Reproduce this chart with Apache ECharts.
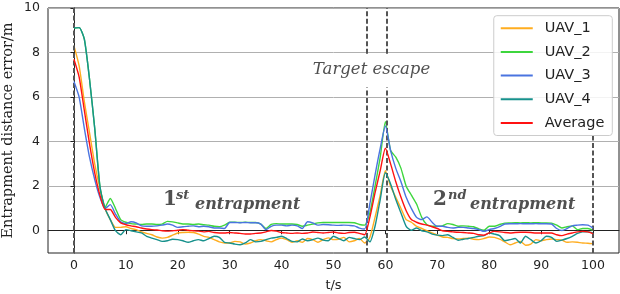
<!DOCTYPE html>
<html>
<head>
<meta charset="utf-8">
<script src="https://cdn.jsdelivr.net/npm/echarts@6/dist/echarts.min.js"></script>
<style>html,body{margin:0;padding:0;background:#fff}#c{width:620px;height:294px}</style>
</head>
<body>
<div id="c"></div>
<script>
const seriesNames = ['UAV_1', 'UAV_2', 'UAV_3', 'UAV_4', 'Average'];
const seriesColors = ['#ffad1f', '#3dd63d', '#4a74e0', '#17918c', '#ff1111'];
const xTicks = [0, 10, 20, 30, 40, 50, 60, 70, 80, 90, 100];
const yTicks = [0, 2, 4, 6, 8, 10];

const uav1 = [8.3,7.4,5.8,4.4,3.0,1.9,1.0,0.5,0.15,0.15,0.18,
0.1,0.05,-0.05,-0.12,-0.18,-0.28,-0.33,-0.3,-0.2,-0.1,
-0.08,-0.07,-0.08,-0.15,-0.25,-0.3,-0.4,-0.5,-0.55,-0.55,
-0.48,-0.5,-0.6,-0.55,-0.45,-0.4,-0.45,-0.5,-0.4,-0.33,
-0.4,-0.52,-0.45,-0.52,-0.35,-0.4,-0.52,-0.4,-0.32,-0.4,
-0.38,-0.3,-0.5,-0.45,-0.35,-0.55,-0.3,0.6,1.6,2.7,
2.0,1.5,1.0,0.5,0.38,0.2,0.1,0.0,-0.1,-0.2,
-0.28,-0.3,-0.35,-0.37,-0.35,-0.33,-0.38,-0.4,-0.35,-0.28,
-0.3,-0.38,-0.5,-0.63,-0.55,-0.48,-0.65,-0.6,-0.4,-0.45,
-0.4,-0.37,-0.4,-0.42,-0.52,-0.5,-0.52,-0.55,-0.56,-0.58];

const uav2 = [9.1,9.12,8.6,6.8,4.6,2.0,1.05,1.45,1.0,0.5,0.38,
0.32,0.3,0.28,0.3,0.3,0.28,0.3,0.42,0.4,0.35,
0.3,0.3,0.28,0.3,0.27,0.25,0.2,0.18,0.25,0.38,
0.38,0.37,0.38,0.37,0.37,0.3,0.1,0.28,0.32,0.3,
0.3,0.3,0.28,0.2,0.25,0.3,0.35,0.37,0.37,0.37,
0.37,0.37,0.37,0.36,0.28,0.25,0.8,2.0,3.3,4.9,
3.6,3.3,2.8,2.0,1.6,1.2,0.6,0.27,0.2,0.2,
0.22,0.32,0.28,0.2,0.22,0.2,0.18,0.08,0.02,0.2,
0.2,0.28,0.34,0.35,0.36,0.35,0.36,0.35,0.36,0.35,
0.35,0.34,0.25,0.12,0.18,0.22,0.05,0.1,0.1,0.02];

const uav3 = [6.7,6.0,4.6,3.3,2.3,1.5,1.0,1.17,0.75,0.4,0.32,
0.4,0.35,0.22,0.2,0.2,0.22,0.25,0.3,0.25,0.15,
0.18,0.2,0.22,0.18,0.2,0.18,0.12,0.12,0.1,0.37,
0.37,0.36,0.37,0.36,0.36,0.3,0.05,0.2,0.25,0.25,
0.22,0.25,0.22,0.1,0.4,0.35,0.25,0.28,0.27,0.25,
0.24,0.25,0.24,0.22,0.12,0.08,1.2,2.5,3.7,4.7,
3.6,2.8,2.2,1.5,1.0,0.6,0.5,0.62,0.38,0.2,
0.2,0.15,0.12,0.15,0.15,0.12,0.1,0.05,-0.03,0.05,
0.1,0.18,0.3,0.31,0.31,0.32,0.31,0.31,0.32,0.31,
0.31,0.3,0.1,0.01,0.1,0.22,0.25,0.27,0.25,0.12];

const uav4 = [9.1,9.12,8.6,6.8,4.6,2.0,1.0,0.5,0.0,-0.18,0.05,
0.0,-0.05,-0.1,-0.25,-0.33,-0.4,-0.48,-0.45,-0.38,-0.4,
-0.45,-0.52,-0.45,-0.4,-0.45,-0.35,-0.25,-0.3,-0.52,-0.55,
-0.6,-0.63,-0.55,-0.4,-0.5,-0.48,-0.4,-0.33,-0.3,-0.25,
-0.35,-0.48,-0.5,-0.37,-0.45,-0.4,-0.33,-0.42,-0.45,-0.25,
-0.35,-0.45,-0.3,-0.35,-0.4,-0.28,-0.5,0.2,1.4,2.6,
2.1,1.4,0.8,0.2,0.02,0.12,0.0,-0.05,-0.15,-0.2,
-0.22,-0.18,-0.3,-0.43,-0.38,-0.35,-0.3,-0.25,-0.22,-0.1,
-0.15,-0.22,-0.45,-0.4,-0.35,-0.55,-0.25,-0.4,-0.55,-0.45,
-0.25,-0.3,-0.48,-0.42,-0.35,-0.25,-0.12,-0.05,-0.05,-0.1];

const average = [7.7,6.9,5.4,3.9,2.6,1.6,0.95,0.95,0.6,0.35,0.27,
0.22,0.18,0.12,0.08,0.05,0.03,0.0,-0.02,0.0,0.02,
0.05,0.02,0.0,-0.02,-0.05,-0.03,-0.08,-0.1,-0.1,-0.08,
-0.1,-0.12,-0.15,-0.15,-0.12,-0.1,-0.05,0.01,-0.02,-0.08,
-0.1,-0.12,-0.1,-0.12,-0.1,-0.06,-0.08,-0.1,-0.08,-0.06,
-0.1,-0.12,-0.08,-0.07,-0.12,-0.18,0.6,1.7,2.7,3.7,
3.0,2.2,1.5,0.9,0.5,0.38,0.3,0.25,0.18,0.1,
0.0,-0.03,-0.05,-0.07,-0.08,-0.1,-0.12,-0.18,-0.2,-0.1,
-0.03,-0.05,-0.08,-0.1,-0.08,-0.07,-0.07,-0.08,-0.1,-0.1,
-0.1,-0.1,-0.18,-0.22,-0.15,-0.1,-0.05,-0.03,-0.05,-0.13];

// event markers: [t, yStart, yEnd]
const eventLines = [[0, -1, 10], [56.5, -1, 6.43], [56.5, 7.95, 10], [60.2, -1, 6.43], [60.2, 7.95, 10], [100, -1, 4.25]];

const allValues = [uav1, uav2, uav3, uav4, average];
const time = uav1.map((_, i) => i);

const chart = echarts.init(document.getElementById('c'), null, {renderer: 'canvas'});

const series = allValues.map((vals, k) => ({
  name: seriesNames[k],
  type: 'line',
  data: vals.map((v, i) => [time[i], v]),
  symbol: 'none',
  smooth: 0.2,
  lineStyle: {width: 1.4, color: seriesColors[k]},
  itemStyle: {color: seriesColors[k]},
  z: 3 + k
}));

series.push({
  type: 'line',
  data: [],
  silent: true,
  z: 10,
  markLine: {
    silent: true,
    symbol: 'none',
    label: {show: false},
    lineStyle: {color: '#555', width: 2, type: [5, 2.5]},
    data: eventLines.map(e => [{coord: [e[0], e[1]]}, {coord: [e[0], e[2]]}])
  }
});

const txtColor = '#505050';
chart.setOption({
  animation: false,
  grid: {left: 48, right: 1, top: 8, bottom: 41, containLabel: false, outerBoundsMode: 'none', show: true, borderColor: '#222', borderWidth: 1},
  xAxis: {
    type: 'value', min: -5, max: 105,
    name: 't/s', nameLocation: 'middle', nameGap: 26, nameMoveOverlap: false,
    nameTextStyle: {fontFamily: 'DejaVu Sans', fontSize: 13, color: '#222'},
    axisLine: {show: true, lineStyle: {color: '#222', width: 1}},
    axisTick: {show: true, length: 3.5, customValues: xTicks, lineStyle: {color: '#222'}},
    axisLabel: {customValues: xTicks, fontFamily: 'DejaVu Sans', fontSize: 12.5, color: '#222', margin: 6},
    splitLine: {show: false}
  },
  yAxis: {
    type: 'value', min: -1, max: 10,
    name: 'Entrapment distance error/m', nameLocation: 'middle', nameGap: 32, nameMoveOverlap: false,
    nameTextStyle: {fontFamily: 'DejaVu Serif', fontSize: 14.5, color: '#222'},
    axisLine: {show: true, lineStyle: {color: '#222', width: 1}},
    axisTick: {show: true, length: 3.5, customValues: yTicks, lineStyle: {color: '#222'}},
    axisLabel: {customValues: yTicks, fontFamily: 'DejaVu Sans', fontSize: 12.5, color: '#222', margin: 8},
    splitLine: {show: true, lineStyle: {color: '#b0b0b0', width: 1}}
  },
  legend: {
    orient: 'vertical', right: 7.7, top: 15.7,
    data: seriesNames,
    itemWidth: 32, itemHeight: 14, itemGap: 8.7,
    itemStyle: {opacity: 0},
    padding: [5, 8, 5, 6],
    backgroundColor: 'rgba(255,255,255,0.85)',
    borderColor: '#cccccc', borderWidth: 1, borderRadius: 3,
    textStyle: {fontFamily: 'DejaVu Sans', fontSize: 14.5, color: '#222', padding: [0, 0, 0, 7]}
  },
  graphic: [
    {type: 'text', z: 20, style: {text: 'Target escape', x: 371.5, y: 78.5, align: 'center', verticalAlign: 'bottom', font: 'italic 16.5px "DejaVu Serif"', fill: txtColor}},
    {type: 'text', z: 20, style: {text: '1', x: 163, y: 209.5, verticalAlign: 'bottom', font: 'bold 20px "DejaVu Serif"', fill: txtColor}},
    {type: 'text', z: 20, style: {text: 'st', x: 176, y: 202, verticalAlign: 'bottom', font: 'bold italic 13px "DejaVu Serif"', fill: txtColor}},
    {type: 'text', z: 20, style: {text: 'entrapment', x: 195, y: 213, verticalAlign: 'bottom', font: 'bold italic 16px "DejaVu Serif"', fill: txtColor}},
    {type: 'text', z: 20, style: {text: '2', x: 433, y: 209.5, verticalAlign: 'bottom', font: 'bold 20px "DejaVu Serif"', fill: txtColor}},
    {type: 'text', z: 20, style: {text: 'nd', x: 448, y: 202, verticalAlign: 'bottom', font: 'bold italic 13px "DejaVu Serif"', fill: txtColor}},
    {type: 'text', z: 20, style: {text: 'entrapment', x: 470, y: 213, verticalAlign: 'bottom', font: 'bold italic 16px "DejaVu Serif"', fill: txtColor}}
  ],
  series: series
});
</script>
</body>
</html>
